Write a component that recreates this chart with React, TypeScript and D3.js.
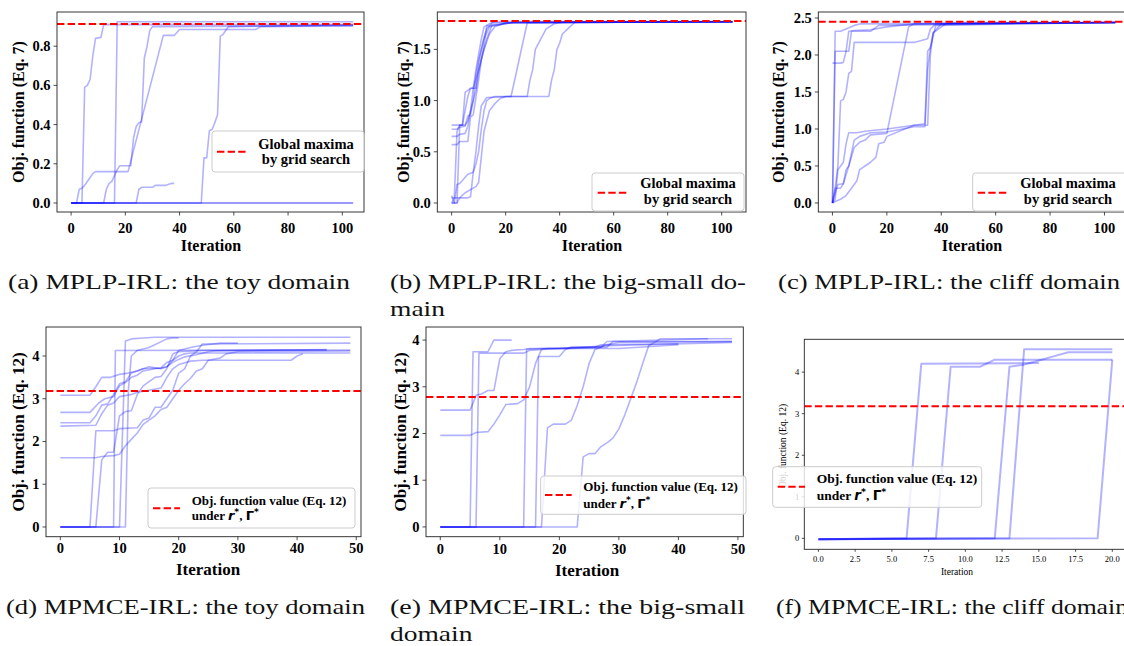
import React from 'react';
import * as d3 from 'd3';

type Pt = [number, number];

// (a) MPLP-IRL, toy domain: one run per array, [iteration, objective]
const toyMplpRuns: Pt[][] = [
  [[0, 0], [4, 0], [5, 0.59], [6, 0.6], [7, 0.63], [8, 0.75], [9, 0.84], [11, 0.845], [12, 0.91], [104, 0.91]],
  [[0, 0], [2, 0], [3, 0.07], [4, 0.075], [5, 0.09], [6, 0.11], [7, 0.13], [8, 0.15], [9, 0.16], [21, 0.16], [34, 0.855], [38, 0.855], [40, 0.885], [68, 0.885], [70, 0.9], [104, 0.905]],
  [[0, 0], [16, 0], [17, 0.925], [104, 0.925]],
  [[0, 0], [12, 0], [13, 0.07], [14, 0.1], [15, 0.11], [16, 0.14], [17, 0.17], [18, 0.19], [22, 0.19], [23, 0.33], [24, 0.39], [25, 0.41], [26, 0.415], [27, 0.74], [28, 0.8], [29, 0.88], [30, 0.9], [104, 0.905]],
  [[0, 0], [24, 0], [25, 0.07], [26, 0.08], [30, 0.08], [31, 0.09], [35, 0.09], [36, 0.095], [37, 0.1], [38, 0.1]],
  [[0, 0], [48, 0], [49, 0.23], [50, 0.23], [51, 0.37], [52, 0.375], [53, 0.41], [54, 0.45], [55, 0.85], [56, 0.86], [57, 0.88], [58, 0.9], [104, 0.91]],
  [[0, 0], [104, 0]],
  [[0, 0], [104, 0]],
];
const toyMplpRef = 0.913;

// (b) MPLP-IRL, big-small domain
const bigMplpRuns: Pt[][] = [
  [[0, 0.76], [4, 0.76], [5, 1.08], [6, 1.1], [7, 1.12], [8, 1.12], [9, 1.3], [10, 1.45], [11, 1.6], [12, 1.72], [14, 1.75], [16, 1.77], [104, 1.77]],
  [[0, 0.72], [2, 0.72], [3, 0.74], [5, 0.75], [6, 0.85], [7, 0.86], [8, 1.0], [9, 1.25], [10, 1.4], [11, 1.5], [12, 1.62], [13, 1.7], [15, 1.76], [104, 1.77]],
  [[0, 0.65], [2, 0.65], [3, 0.67], [5, 0.68], [6, 0.75], [7, 0.9], [8, 1.12], [10, 1.3], [12, 1.5], [14, 1.65], [16, 1.72], [20, 1.76], [104, 1.77]],
  [[0, 0.57], [2, 0.57], [3, 0.6], [6, 0.6], [7, 0.84], [8, 0.86], [9, 1.03], [10, 1.2], [11, 1.4], [12, 1.55], [13, 1.73], [18, 1.74], [22, 1.76], [104, 1.77]],
  [[0, 0.05], [1, 0.05], [2, 0.7], [3, 0.76], [5, 0.76], [6, 0.8], [7, 0.9], [8, 1.0], [9, 1.1], [10, 1.28], [11, 1.4], [12, 1.5], [13, 1.6], [15, 1.74], [23, 1.76], [104, 1.77]],
  [[0, 0], [1, 0], [2, 0.18], [3, 0.19], [4, 0.22], [6, 0.28], [8, 0.3], [9, 0.38], [10, 0.5], [11, 0.72], [12, 0.9], [13, 1.0], [14, 1.02], [16, 1.04], [36, 1.04], [37, 1.2], [38, 1.3], [39, 1.5], [40, 1.56], [41, 1.65], [43, 1.7], [45, 1.75], [46, 1.77], [104, 1.77]],
  [[0, 0], [1, 0.05], [3, 0.05], [5, 0.1], [7, 0.13], [9, 0.16], [10, 0.2], [11, 0.45], [12, 0.7], [14, 0.9], [16, 0.97], [18, 1.02], [20, 1.04], [28, 1.04], [29, 1.2], [30, 1.3], [31, 1.5], [33, 1.6], [35, 1.7], [38, 1.75], [42, 1.77], [104, 1.77]],
  [[0, 0], [2, 0], [3, 0.05], [6, 0.05], [7, 0.06], [8, 0.3], [9, 0.5], [10, 0.75], [11, 0.95], [13, 1.03], [22, 1.04], [28, 1.76], [104, 1.77]],
  [[0, 0.07], [1, 0], [2, 0], [3, 0.76], [4, 0.76], [5, 0.9], [6, 1.04], [7, 1.12], [9, 1.12], [10, 1.35], [11, 1.5], [12, 1.6], [14, 1.72], [19, 1.75], [24, 1.77], [104, 1.77]],
];
const bigMplpRef = 1.777;

// (c) MPLP-IRL, cliff domain
const cliffMplpRuns: Pt[][] = [
  [[0, 1.89], [3, 1.89], [4, 1.9], [5, 2.05], [6, 2.32], [8, 2.33], [14, 2.34], [20, 2.38], [30, 2.42], [104, 2.44]],
  [[0, 0], [1, 2.05], [6, 2.05], [7, 2.32], [14, 2.32], [17, 2.4], [104, 2.44]],
  [[0, 0], [1, 0.2], [2, 0.5], [3, 1.38], [4, 1.4], [5, 1.5], [6, 1.75], [7, 1.78], [8, 2.17], [30, 2.17], [33, 2.2], [35, 2.22], [36, 2.35], [38, 2.42], [104, 2.44]],
  [[0, 0], [1, 0.05], [2, 0.45], [3, 0.5], [4, 0.55], [5, 0.8], [6, 0.95], [9, 0.95], [12, 0.97], [20, 1.0], [30, 1.05], [35, 1.05], [36, 2.0], [37, 2.3], [40, 2.42], [104, 2.44]],
  [[0, 0], [1, 0.2], [3, 0.2], [4, 0.26], [6, 0.5], [8, 0.85], [10, 0.9], [14, 0.95], [20, 0.96], [30, 1.03], [34, 1.03], [35, 1.8], [36, 2.1], [37, 2.3], [42, 2.43], [104, 2.44]],
  [[0, 0], [2, 0.25], [4, 0.26], [5, 0.45], [6, 0.5], [8, 0.75], [10, 0.82], [12, 0.85], [14, 0.92], [20, 0.94], [28, 2.38], [30, 2.42], [104, 2.44]],
  [[0, 0], [1, 0.02], [3, 0.05], [5, 0.1], [7, 0.2], [9, 0.3], [10, 0.45], [12, 0.5], [14, 0.55], [16, 0.62], [17, 0.8], [19, 0.82], [20, 0.9], [30, 1.05], [34, 1.07], [35, 2.05], [36, 2.1], [38, 2.4], [104, 2.44]],
  [[0, 0], [1, 2.32], [3, 2.32], [8, 2.4], [10, 2.42], [104, 2.44]],
];
const cliffMplpRef = 2.45;

// (d) MPMCE-IRL, toy domain
const toyMpmceRuns: Pt[][] = [
  [[0, 3.08], [5, 3.08], [6, 3.28], [7, 3.5], [8.5, 3.5], [10, 3.57], [11.5, 3.6], [13, 3.65], [14, 3.7], [17, 3.72], [18, 3.75], [19, 3.85], [20, 3.92], [21, 3.98], [23, 4.03], [25, 4.1], [26, 4.12], [45, 4.15]],
  [[0, 2.68], [5, 2.68], [6.5, 2.9], [7.5, 3.0], [9, 3.05], [10, 3.3], [11, 3.38], [12, 3.5], [13, 3.55], [14, 3.65], [16, 3.7], [17, 3.72], [18, 3.85], [19, 3.9], [20, 4.13], [22, 4.2], [24, 4.25], [27, 4.3], [30, 4.3]],
  [[0, 2.44], [5, 2.44], [6, 2.6], [7, 2.85], [8, 2.88], [9, 3.1], [10, 3.35], [11, 3.4], [12, 3.6], [14, 3.7], [15, 3.75], [17, 3.7], [18, 3.75], [19, 3.9], [20, 4.0], [21, 4.05], [22, 4.07], [49, 4.07]],
  [[0, 2.36], [6, 2.38], [7, 2.65], [8, 2.85], [9, 2.9], [10, 3.05], [12, 3.1], [13, 3.15], [15, 3.2], [17, 3.25], [18, 3.5], [19, 3.7], [20, 3.8], [22, 3.88], [24, 3.9], [39, 3.9], [40, 4.0], [41, 4.05]],
  [[0, 1.62], [6, 1.62], [7, 1.65], [9, 1.67], [10, 1.7], [11, 1.9], [12, 2.05], [13, 2.2], [14, 2.4], [15, 2.5], [16, 2.6], [17, 2.75], [18, 2.8], [19, 3.0], [20, 3.2], [21, 3.35], [22, 3.48], [23, 3.65], [24, 3.7], [25, 3.9], [27, 3.95], [28, 4.05], [30, 4.1], [49, 4.12]],
  [[0, 0], [5, 0], [6, 2.25], [9, 2.25], [10, 2.3], [13, 2.32], [14, 2.5], [15, 2.55], [16, 2.8], [17, 2.8], [18, 3.0], [19, 3.2], [20, 3.6], [21, 3.7], [22, 4.0], [23, 4.1], [24, 4.28], [49, 4.3]],
  [[0, 0], [6, 0], [7, 1.57], [8, 1.75], [9, 1.75], [10, 2.6], [11, 2.7], [12, 2.72], [13, 3.1], [14, 3.3], [16, 3.5], [17, 3.52], [18, 3.7], [19, 4.05], [20, 4.1], [24, 4.13], [49, 4.14]],
  [[0, 0], [9, 0], [9.3, 4.13], [45, 4.14]],
  [[0, 0], [10, 0], [11, 4.35], [12, 4.4], [14, 4.42], [16, 4.44], [49, 4.44]],
  [[0, 0], [11, 0], [11.5, 3.2], [12, 4.0], [13, 4.13], [15, 4.2], [18, 4.4], [19, 4.42], [20, 4.42]],
];
const toyMpmceRef = 3.18;

// (e) MPMCE-IRL, big-small domain
const bigMpmceRuns: Pt[][] = [
  [[0, 2.5], [5, 2.5], [5.5, 2.65], [6, 2.82], [7, 2.85], [8, 2.92], [9, 2.92], [10, 3.6], [11, 3.75], [12, 3.78], [14, 3.8], [15, 3.82], [20, 3.82], [28, 3.88], [49, 3.95]],
  [[0, 1.96], [5, 1.96], [6, 2.02], [8, 2.04], [9, 2.2], [10, 2.4], [11, 2.62], [13, 2.64], [14, 2.72], [15, 3.0], [16, 3.5], [17, 3.8], [18, 3.82], [30, 3.82], [40, 3.9]],
  [[0, 0], [5, 0], [5.5, 3.75], [8, 3.75], [9, 4.0], [12, 4.0]],
  [[0, 0], [6, 0], [6.5, 3.72], [14, 3.72], [15, 3.78], [17, 3.8], [28, 3.85], [29, 3.97], [49, 3.97]],
  [[0, 0], [14, 0], [14.5, 3.8], [17, 3.82], [26, 3.85], [27, 3.9], [40, 3.92]],
  [[0, 0], [16, 0], [16.5, 3.65], [20, 3.65], [21, 3.8], [22, 3.85], [27, 3.85], [28, 3.97], [45, 4.03]],
  [[0, 0], [17, 0], [18, 2.12], [19, 2.2], [21, 2.2], [22, 2.28], [23, 2.6], [24, 3.0], [25, 3.5], [26, 3.8], [27, 3.85], [28, 3.9], [30, 3.95], [49, 3.97]],
  [[0, 0], [23, 0], [24, 1.5], [25, 1.57], [26, 1.57], [27, 1.72], [28, 1.8], [29, 1.9], [30, 2.1], [31, 2.4], [32, 2.75], [33, 3.1], [34, 3.5], [35, 3.88], [36, 3.95], [37, 4.03], [49, 4.03]],
];
const bigMpmceRef = 2.78;

// (f) MPMCE-IRL, cliff domain
const cliffMpmceRuns: Pt[][] = [
  [[0, -0.02], [6, 0], [7, 4.2], [15, 4.22]],
  [[0, -0.02], [8, 0], [9, 4.13], [11, 4.13], [12, 4.3], [20, 4.3]],
  [[0, -0.02], [12, 0], [13, 4.13], [14, 4.18], [15, 4.28], [16, 4.38], [17, 4.48], [20, 4.48]],
  [[0, -0.02], [13, 0], [14, 4.55], [20, 4.55]],
  [[0, -0.02], [19, 0], [20, 4.3]],
];
const cliffMpmceRef = 3.18;

const xTicksLong = [0, 20, 40, 60, 80, 100];
const xTicksShort = [0, 10, 20, 30, 40, 50];
const xTicksCliff = [0, 2.5, 5, 7.5, 10, 12.5, 15, 17.5, 20];
const yTicksA = [0, 0.2, 0.4, 0.6, 0.8];
const yTicksB = [0, 0.5, 1.0, 1.5];
const yTicksC = [0, 0.5, 1.0, 1.5, 2.0, 2.5];
const yTicksInt4 = [0, 1, 2, 3, 4];

const yLabelMplp = 'Obj. function (Eq. 7)';
const yLabelMpmce = 'Obj. function (Eq. 12)';
const xLabel = 'Iteration';
const legendMplp = ['Global maxima', 'by grid search'];
const legendMpmce = 'Obj. function value (Eq. 12)';

const captionTexts = [
  ['(a) MPLP-IRL: the toy domain'],
  ['(b) MPLP-IRL: the big-small do-', 'main'],
  ['(c) MPLP-IRL: the cliff domain'],
  ['(d) MPMCE-IRL: the toy domain'],
  ['(e) MPMCE-IRL: the big-small', 'domain'],
  ['(f) MPMCE-IRL: the cliff domain'],
];

const SERIF = '"Liberation Serif", "Times New Roman", serif';
const MATH = '"DejaVu Sans", sans-serif';

const panels = [
  {
    runs: toyMplpRuns, ref: toyMplpRef, box: [57, 12, 364, 212], xd: [-5.2, 108], yd: [-0.046, 0.9745],
    xt: xTicksLong, yt: yTicksA, xf: d3.format('d'), yf: d3.format('.1f'), ylab: yLabelMplp, ylabX: 18, ylabY: 112, big: true,
    xtY: 233, xlabX: 211, xlabY: 251,
    legend: { box: [212, 131, 364, 172], lx: [217, 247], ly: 151.7, tx: 306, ty: [149, 164] },
    cap: { x: 8, y: 289, w: 342 },
  },
  {
    runs: bigMplpRuns, ref: bigMplpRef, box: [437.3, 12, 746, 212], xd: [-5.3, 109], yd: [-0.088, 1.865],
    xt: xTicksLong, yt: yTicksB, xf: d3.format('d'), yf: d3.format('.1f'), ylab: yLabelMplp, ylabX: 403, ylabY: 112, big: true,
    xtY: 233, xlabX: 592, xlabY: 251,
    legend: { box: [592, 173, 744, 211], lx: [597.7, 627], ly: 192.7, tx: 688, ty: [188, 204] },
    cap: { x: 390, y: 289, w: 356 },
  },
  {
    runs: cliffMplpRuns, ref: cliffMplpRef, box: [818.3, 12, 1129.5, 212], xd: [-5.2, 109.2], yd: [-0.122, 2.581],
    xt: xTicksLong, yt: yTicksC, xf: d3.format('d'), yf: d3.format('.1f'), ylab: yLabelMplp, ylabX: 778, ylabY: 112, big: true,
    xtY: 233, xlabX: 972, xlabY: 251,
    legend: { box: [972.7, 173, 1130, 211], lx: [977.7, 1007], ly: 192.7, tx: 1068, ty: [188, 204] },
    cap: { x: 778, y: 289, w: 342 },
  },
  {
    runs: toyMpmceRuns, ref: toyMpmceRef, box: [46, 327, 361, 536.7], xd: [-2.42, 50.8], yd: [-0.227, 4.678],
    xt: xTicksShort, yt: yTicksInt4, xf: d3.format('d'), yf: d3.format('d'), ylab: yLabelMpmce, ylabX: 18, ylabY: 432, big: true,
    xtY: 553, xlabX: 208, xlabY: 575,
    legend: { box: [148, 488, 355, 528], lx: [153, 180], ly: 508.3, tx: 191.7, ty: [504.5, 520], fs: 13 },
    cap: { x: 6, y: 614, w: 359 },
  },
  {
    runs: bigMpmceRuns, ref: bigMpmceRef, box: [426, 327, 743.3, 536.7], xd: [-2.4, 50.9], yd: [-0.209, 4.28],
    xt: xTicksShort, yt: yTicksInt4, xf: d3.format('d'), yf: d3.format('d'), ylab: yLabelMpmce, ylabX: 400, ylabY: 432, big: true,
    xtY: 554, xlabX: 587, xlabY: 576,
    legend: { box: [540.7, 476, 746, 514.3], lx: [545, 571.7], ly: 495, tx: 583.3, ty: [491, 508], fs: 13 },
    cap: { x: 390, y: 614, w: 355 },
  },
  {
    runs: cliffMpmceRuns, ref: cliffMpmceRef, box: [804.3, 339.3, 1127, 549.3], xd: [-0.96, 21.0], yd: [-0.263, 4.79],
    xt: xTicksCliff, yt: yTicksInt4, xf: d3.format('.1f'), yf: d3.format('d'), ylab: yLabelMpmce, ylabX: 783, ylabY: 446, big: false,
    xtY: 562, xlabX: 957, xlabY: 575,
    legend: { box: [772.7, 466.7, 981.7, 507.3], lx: [777.7, 805], ly: 486.7, tx: 816.7, ty: [483, 500], fs: 13.5 },
    cap: { x: 776, y: 614, w: 352 },
  },
];

function Panel({ p, idx }: { p: any; idx: number }) {
  const [x0, y0, x1, y1] = p.box;
  const x = d3.scaleLinear().domain(p.xd).range([x0, x1]);
  const y = d3.scaleLinear().domain(p.yd).range([y1, y0]);
  const line = d3.line<Pt>().x(d => x(d[0])).y(d => y(d[1]));
  const tickFs = p.big ? 14.5 : 8.5;
  const labFs = p.big ? (idx < 3 ? 16 : 17) : 9.5;
  const weight = p.big ? 'bold' : 'normal';
  const tickLen = p.big ? 3.5 : 2.5;
  const clipId = `clip${idx}`;
  const lg = p.legend;
  const caps = captionTexts[idx];
  return (
    <g>
      <defs>
        <clipPath id={clipId}>
          <rect x={x0} y={y0} width={x1 - x0} height={y1 - y0} />
        </clipPath>
      </defs>
      <g clipPath={`url(#${clipId})`}>
        {p.runs.map((r: Pt[], i: number) => (
          <path key={i} d={line(r) || ''} fill="none" stroke="#0000ff" strokeOpacity={0.3}
            strokeWidth={p.big ? 1.6 : 2} strokeLinejoin="round" />
        ))}
        <line x1={x0} x2={x1} y1={y(p.ref)} y2={y(p.ref)} stroke="#ff0000" strokeWidth={2} strokeDasharray="7.4 3.2" />
      </g>
      <rect x={x0} y={y0} width={x1 - x0} height={y1 - y0} fill="none" stroke="#222" strokeWidth={0.9} />
      {p.xt.map((t: number) => (
        <g key={'x' + t}>
          <line x1={x(t)} x2={x(t)} y1={y1} y2={y1 + tickLen} stroke="#222" strokeWidth={0.8} />
          <text x={x(t)} y={p.xtY} textAnchor="middle" fontFamily={SERIF} fontWeight={weight} fontSize={tickFs}>{p.xf(t)}</text>
        </g>
      ))}
      {p.yt.map((t: number) => (
        <g key={'y' + t}>
          <line x1={x0 - tickLen} x2={x0} y1={y(t)} y2={y(t)} stroke="#222" strokeWidth={0.8} />
          <text x={x0 - tickLen - (p.big ? 3 : 2.5)} y={y(t)} dy="0.34em" textAnchor="end" fontFamily={SERIF} fontWeight={weight} fontSize={tickFs}>{p.yf(t)}</text>
        </g>
      ))}
      <text x={p.xlabX} y={p.xlabY} textAnchor="middle"
        fontFamily={SERIF} fontWeight={weight} fontSize={labFs}>{xLabel}</text>
      <text transform={`translate(${p.ylabX},${p.ylabY}) rotate(-90)`} textAnchor="middle" dy="0.35em"
        fontFamily={SERIF} fontWeight={weight} fontSize={labFs}>{p.ylab}</text>
      <g>
        <rect x={lg.box[0]} y={lg.box[1]} width={lg.box[2] - lg.box[0]} height={lg.box[3] - lg.box[1]} rx={3}
          fill="#fff" fillOpacity={0.8} stroke="#cccccc" strokeWidth={1} />
        <line x1={lg.lx[0]} x2={lg.lx[1]} y1={lg.ly} y2={lg.ly} stroke="#ff0000" strokeWidth={2} strokeDasharray="7.4 3.2" />
        {idx < 3 ? (
          legendMplp.map((s, i) => (
            <text key={i} x={lg.tx} y={lg.ty[i]} textAnchor="middle" fontFamily={SERIF} fontWeight="bold" fontSize={14.5}>{s}</text>
          ))
        ) : (
          <g fontFamily={SERIF} fontWeight="bold" fontSize={lg.fs}>
            <text x={lg.tx} y={lg.ty[0]}>{legendMpmce}</text>
            <text x={lg.tx} y={lg.ty[1]}>
              under <tspan fontFamily={MATH} fontStyle="italic">r</tspan>
              <tspan fontFamily={MATH} fontSize={lg.fs * 0.7} dy={-5}>*</tspan>
              <tspan dy={5}>, </tspan>
              <tspan fontFamily={MATH}>Γ</tspan>
              <tspan fontFamily={MATH} fontSize={lg.fs * 0.7} dy={-5}>*</tspan>
            </text>
          </g>
        )}
      </g>
      <g fontFamily={SERIF} fontSize={22} fill="#111">
        <text x={p.cap.x} y={p.cap.y} textLength={p.cap.w} lengthAdjust="spacingAndGlyphs">{caps[0]}</text>
        {caps[1] && (
          <text transform={`translate(${p.cap.x},${p.cap.y + 27}) scale(1.25,1)`}>{caps[1]}</text>
        )}
      </g>
    </g>
  );
}

export default function App() {
  return (
    <svg width={1124} height={646} style={{ position: 'absolute', left: 0, top: 0, background: '#fff' }}>
      <rect width={1124} height={646} fill="#fff" />
      {panels.map((p, i) => <Panel key={i} p={p} idx={i} />)}
    </svg>
  );
}
